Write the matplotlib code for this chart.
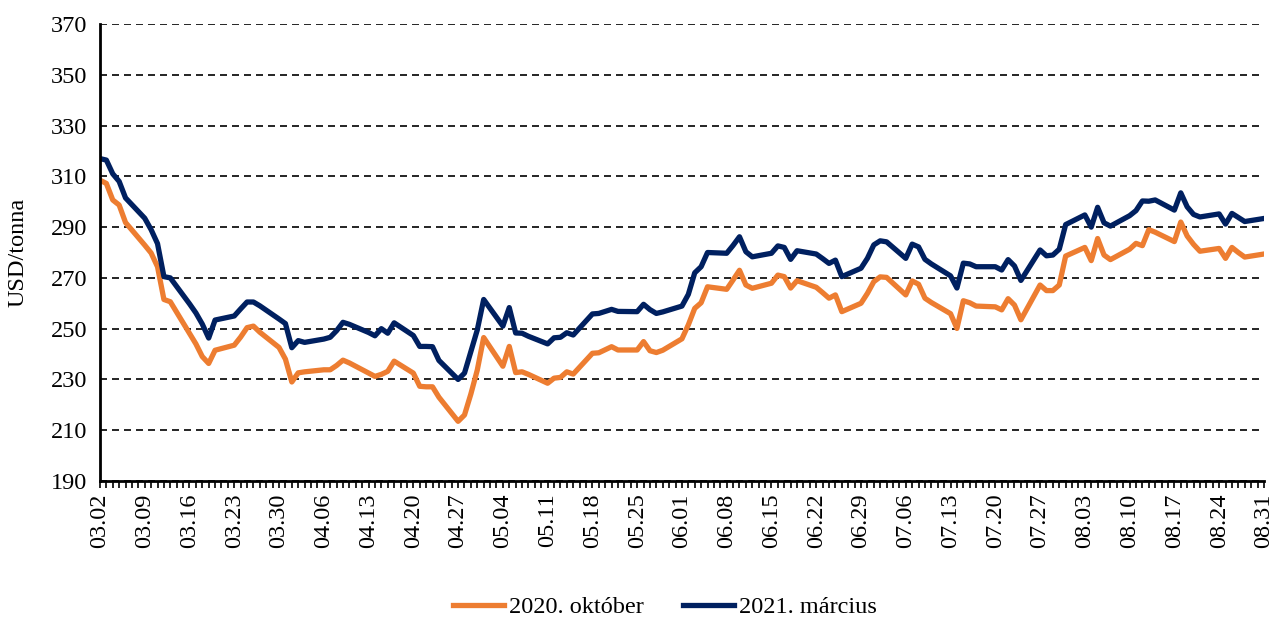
import matplotlib as mpl
mpl.use('Agg')
import matplotlib.pyplot as plt
import matplotlib.dates as mdates
import pandas as pd

plt.rcParams['font.family'] = ['Liberation Serif', 'DejaVu Serif']

# business days 2020.03.02 - 2020.08.31
days = pd.bdate_range('2020-03-02', '2020-08-31')

# one row per week (Mon..Fri), last week only Monday
okt2020 = [
    308.5, 307.2, 300.7, 298.7, 291.8,
    282.9, 279.8, 274.4, 261.5, 260.6,
    248.2, 244.0, 239.0, 236.3, 241.5,
    243.5, 246.7, 250.4, 251.0, 248.6,
    242.6, 238.0, 229.0, 232.6, 233.0,
    233.8, 233.8, 235.5, 237.6, 236.5,
    232.5, 231.2, 232.0, 233.2, 237.2,
    232.5, 227.3, 227.1, 227.1, 223.0,
    213.5, 216.0, 224.3, 233.7, 246.5,
    235.2, 243.0, 232.7, 233.0, 232.0,
    228.5, 230.5, 230.8, 233.0, 232.1,
    240.3, 240.5, 241.7, 242.9, 241.6,
    241.6, 244.9, 241.3, 240.6, 241.5,
    246.0, 251.5, 258.0, 260.2, 266.5,
    265.5, 269.2, 273.0, 267.2, 265.9,
    267.9, 271.1, 270.5, 266.0, 268.9,
    266.3, 264.2, 262.0, 263.3, 256.7,
    260.0, 263.9, 268.5, 270.4, 270.2,
    263.3, 268.8, 267.5, 262.0, 260.3,
    255.9, 250.1, 261.0, 260.2, 258.9,
    258.6, 257.4, 261.8, 259.3, 253.5,
    267.2, 265.0, 265.0, 267.2, 278.6,
    282.0, 276.8, 285.5, 279.0, 277.2,
    281.3, 283.6, 282.7, 289.0, 288.0,
    284.3, 292.0, 286.5, 283.2, 280.5,
    281.6, 277.7, 282.0, 280.0, 278.2,
    279.4,
]

mar2021 = [
    317.0, 316.4, 311.0, 308.0, 301.5,
    293.5, 289.0, 283.5, 270.5, 270.0,
    259.8, 256.2, 251.8, 246.3, 253.4,
    255.0, 257.8, 260.5, 260.5, 259.0,
    253.8, 252.0, 242.5, 245.3, 244.6,
    245.9, 246.6, 249.2, 252.5, 251.7,
    248.5, 247.2, 250.0, 248.2, 252.3,
    247.3, 243.0, 243.0, 242.9, 237.5,
    230.0, 232.5, 241.0, 249.5, 261.5,
    251.0, 258.3, 248.3, 248.2, 247.0,
    244.0, 246.4, 246.6, 248.4, 247.5,
    255.8, 256.0, 256.8, 257.6, 256.8,
    256.7, 259.6, 257.5, 256.0, 256.6,
    258.9, 263.5, 272.0, 274.4, 280.0,
    279.7, 282.8, 286.2, 280.3, 278.3,
    279.7, 282.6, 282.0, 277.3, 280.7,
    279.4, 277.6, 275.7, 277.0, 270.5,
    273.8, 277.7, 283.0, 284.6, 284.2,
    277.7, 283.3, 282.2, 277.3, 275.5,
    270.8, 266.0, 275.8, 275.5, 274.4,
    274.4, 273.1, 277.2, 274.7, 269.0,
    281.0, 278.7, 279.0, 281.3, 291.0,
    294.8, 290.0, 297.8, 291.7, 290.4,
    294.5, 296.5, 300.3, 300.2, 300.7,
    296.7, 303.5, 298.0, 295.0, 294.0,
    295.2, 291.2, 295.4, 293.8, 292.2,
    293.4,
]

labels = ['2020. október', '2021. március']
colors = ['#ED7D31', '#002060']
y_ticks = list(range(190, 371, 20))

fig = plt.figure(figsize=(12.75, 6.22), dpi=100)
ax = fig.add_axes([0.0784, 0.2267, 0.9129, 0.7347])

ax.plot(days, okt2020, color=colors[0], lw=3.8, label=labels[0], solid_joinstyle='round')
ax.plot(days, mar2021, color=colors[1], lw=3.8, label=labels[1], solid_joinstyle='round')

ax.set_ylim(190, 370)
ax.set_yticks(y_ticks)
ax.set_xlim(days[0], days[-1])

ax.xaxis.set_major_locator(mdates.WeekdayLocator(byweekday=mdates.MO))
ax.xaxis.set_major_formatter(mdates.DateFormatter('%m.%d'))
ax.xaxis.set_minor_locator(mdates.DayLocator())
plt.setp(ax.get_xticklabels(), rotation=90)

ax.tick_params(axis='x', which='both', direction='out', length=5, width=1.2, labelsize=17.5, pad=4)
ax.tick_params(axis='y', length=0, labelsize=17.5, pad=9)

ax.grid(axis='y', color='black', linestyle=(0, (4.2, 3)), linewidth=1.2)
ax.set_axisbelow(True)

for s in ['top', 'right']:
    ax.spines[s].set_visible(False)
ax.spines['left'].set_linewidth(2)
ax.spines['bottom'].set_linewidth(2)

ax.set_ylabel('USD/tonna', fontsize=17.5)
ax.yaxis.set_label_coords(-0.061, 0.5)

fig.legend(loc='center', bbox_to_anchor=(665 / 1275, 1 - 607 / 622), ncol=2,
           frameon=False, fontsize=17.5, handlelength=2.1, columnspacing=1.6, handletextpad=0.2)

fig.savefig('out.png', dpi=100)
